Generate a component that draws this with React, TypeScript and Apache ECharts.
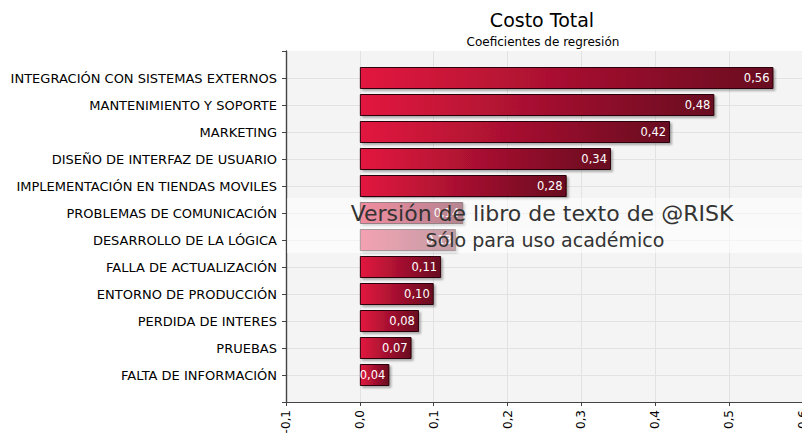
import React, { useEffect, useRef } from "react";
import * as echarts from "echarts";

const categories = [
  "INTEGRACIÓN CON SISTEMAS EXTERNOS",
  "MANTENIMIENTO Y SOPORTE",
  "MARKETING",
  "DISEÑO DE INTERFAZ DE USUARIO",
  "IMPLEMENTACIÓN EN TIENDAS MOVILES",
  "PROBLEMAS DE COMUNICACIÓN",
  "DESARROLLO DE LA LÓGICA",
  "FALLA DE ACTUALIZACIÓN",
  "ENTORNO DE PRODUCCIÓN",
  "PERDIDA DE INTERES",
  "PRUEBAS",
  "FALTA DE INFORMACIÓN",
];
const values = [0.56, 0.48, 0.42, 0.34, 0.28, 0.14, 0.13, 0.11, 0.1, 0.08, 0.07, 0.04];
const axisMin = -0.1;
const axisMax = 0.6;
const axisStep = 0.1;

const FONT = "DejaVu Sans";
const fmt = (v: number) => (Math.abs(v) < 1e-9 ? 0 : v).toFixed(1).replace(".", ",");

export default function App() {
  const ref = useRef<HTMLDivElement>(null);
  useEffect(() => {
    if (!ref.current) return;
    const chart = echarts.init(ref.current, null, { renderer: "svg" });
    const barGradient = new echarts.graphic.LinearGradient(0, 0, 1, 0, [
      { offset: 0, color: "#e3173f" },
      { offset: 1, color: "#680a20" },
    ]);
    chart.setOption({
      animation: false,
      backgroundColor: "#ffffff",
      textStyle: { fontFamily: FONT },
      title: [
        {
          text: "Costo Total",
          left: 537,
          top: 5,
          textAlign: "center",
          textStyle: { fontFamily: FONT, fontSize: 19, fontWeight: "normal", color: "#000" },
        },
        {
          text: "Coeficientes de regresión",
          left: 538,
          top: 31,
          textAlign: "center",
          textStyle: { fontFamily: FONT, fontSize: 12, fontWeight: "normal", color: "#000" },
        },
      ],
      grid: [
        { left: 286, right: 7, top: 51, bottom: 39, containLabel: false },
        { left: 286, right: 7, top: 78, bottom: 66, containLabel: false },
      ],
      xAxis: [
        {
          type: "value",
          gridIndex: 0,
          z: 4,
          min: axisMin,
          max: axisMax,
          interval: axisStep,
          axisLine: { show: true, onZero: false, lineStyle: { color: "#444", width: 1 } },
          axisTick: { show: true, length: 4, lineStyle: { color: "#444" } },
          axisLabel: {
            rotate: 90,
            margin: 8,
            fontFamily: FONT,
            fontSize: 12,
            color: "#000",
            formatter: (v: number) => fmt(v),
          },
          splitLine: { show: true, lineStyle: { color: "#e2e2e2", width: 1 } },
        },
        {
          type: "value",
          gridIndex: 1,
          min: axisMin,
          max: axisMax,
          interval: axisStep,
          show: false,
          splitLine: { show: false },
        },
      ],
      yAxis: [
        {
          type: "value",
          gridIndex: 0,
          show: true,
          z: 6,
          min: 0,
          max: 1,
          interval: 1,
          axisLine: { show: true, onZero: false, lineStyle: { color: "#444", width: 1.4 } },
          axisTick: { show: true, length: 4, lineStyle: { color: "#444" } },
          axisLabel: { show: false },
          splitLine: { show: false },
        },
        {
          type: "category",
          gridIndex: 1,
          z: 5,
          data: categories,
          inverse: true,
          boundaryGap: false,
          axisLine: { show: false, onZero: false },
          axisTick: { show: true, length: 4, lineStyle: { color: "#444" } },
          axisLabel: { fontFamily: FONT, fontSize: 13, color: "#000", margin: 9 },
          splitLine: { show: true, lineStyle: { color: "#e2e2e2", width: 1 } },
        },
      ],
      series: [
        {
          type: "bar",
          xAxisIndex: 1,
          yAxisIndex: 1,
          data: values,
          barWidth: 22,
          clip: false,
          itemStyle: {
            color: barGradient,
            borderColor: "#2a0008",
            borderWidth: 1,
            shadowColor: "rgba(0,0,0,0.3)",
            shadowBlur: 2,
            shadowOffsetX: 2,
            shadowOffsetY: 2,
          },
          label: {
            show: true,
            position: "insideRight",
            distance: 4,
            fontFamily: FONT,
            fontSize: 11.5,
            color: "#fff",
            formatter: (p: any) => p.value.toFixed(2).replace(".", ","),
          },
          z: 7,
        },
      ],
      graphic: [
        {
          type: "rect",
          z: -10,
          silent: true,
          shape: { x: 287, y: 51, width: 523, height: 351 },
          style: { fill: "#f4f4f4" },
        },
        {
          type: "rect",
          z: 100,
          silent: true,
          shape: { x: 287, y: 198, width: 523, height: 28 },
          style: { fill: "rgba(255,255,255,0.5)" },
        },
        {
          type: "rect",
          z: 100,
          silent: true,
          shape: { x: 287, y: 226, width: 523, height: 27 },
          style: { fill: "rgba(255,255,255,0.6)" },
        },
        {
          type: "text",
          z: 101,
          silent: true,
          x: 542,
          y: 213,
          style: {
            text: "Versión de libro de texto de @RISK",
            fontFamily: FONT,
            fontSize: 22,
            fill: "#333",
            align: "center",
            verticalAlign: "middle",
          },
        },
        {
          type: "text",
          z: 101,
          silent: true,
          x: 545,
          y: 240,
          style: {
            text: "Sólo para uso académico",
            fontFamily: FONT,
            fontSize: 19,
            fill: "#333",
            align: "center",
            verticalAlign: "middle",
          },
        },
      ],
    });
    return () => chart.dispose();
  }, []);
  return <div ref={ref} style={{ width: 810, height: 441, margin: -8 }} />;
}
